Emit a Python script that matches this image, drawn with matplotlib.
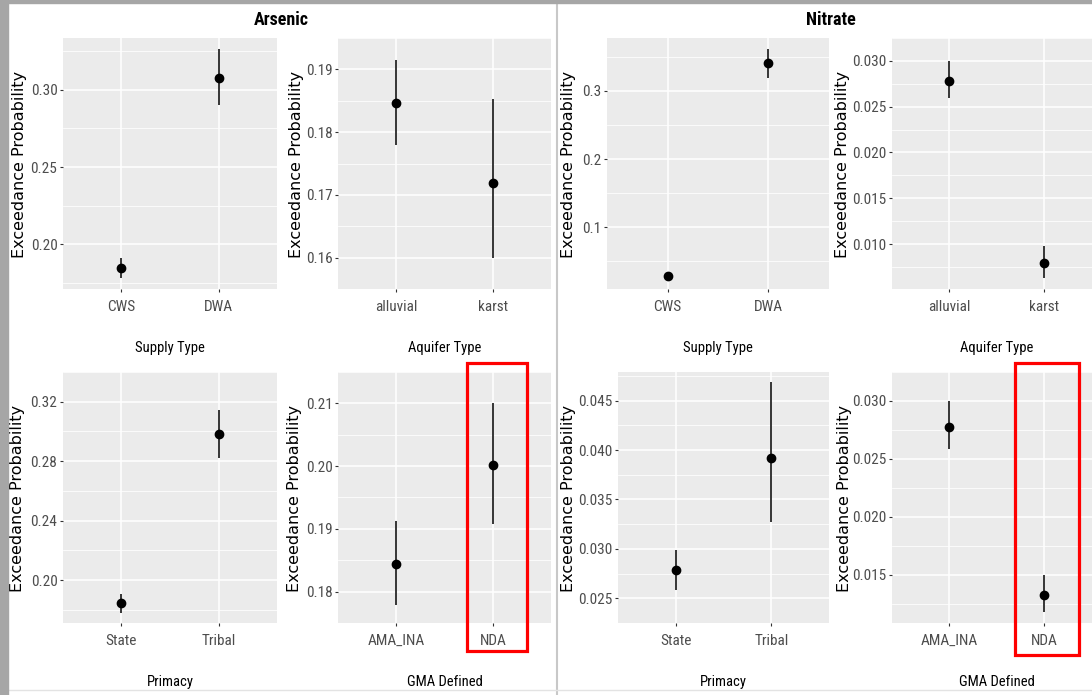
import matplotlib
matplotlib.use("Agg")
import matplotlib.pyplot as plt
from matplotlib import font_manager
from matplotlib.patches import Rectangle
from matplotlib.lines import Line2D

# ---- data ----
ars_supply_cat = ["CWS", "DWA"]
ars_supply_est = [0.185, 0.3076]
ars_supply_lo = [0.1786, 0.290]
ars_supply_hi = [0.1915, 0.326]

ars_aquifer_cat = ["alluvial", "karst"]
ars_aquifer_est = [0.1847, 0.1719]
ars_aquifer_lo = [0.1779, 0.1600]
ars_aquifer_hi = [0.1915, 0.1853]

ars_primacy_cat = ["State", "Tribal"]
ars_primacy_est = [0.1849, 0.2986]
ars_primacy_lo = [0.1780, 0.2824]
ars_primacy_hi = [0.1909, 0.3147]

ars_gma_cat = ["AMA_INA", "NDA"]
ars_gma_est = [0.1844, 0.2001]
ars_gma_lo = [0.1779, 0.1908]
ars_gma_hi = [0.1913, 0.2100]

nit_supply_cat = ["CWS", "DWA"]
nit_supply_est = [0.028, 0.3407]
nit_supply_lo = [0.026, 0.3197]
nit_supply_hi = [0.030, 0.3610]

nit_aquifer_cat = ["alluvial", "karst"]
nit_aquifer_est = [0.0278, 0.00788]
nit_aquifer_lo = [0.0259, 0.00628]
nit_aquifer_hi = [0.0300, 0.0098]

nit_primacy_cat = ["State", "Tribal"]
nit_primacy_est = [0.02782, 0.03923]
nit_primacy_lo = [0.0258, 0.03272]
nit_primacy_hi = [0.0299, 0.04684]

nit_gma_cat = ["AMA_INA", "NDA"]
nit_gma_est = [0.02773, 0.01326]
nit_gma_lo = [0.02581, 0.01173]
nit_gma_hi = [0.0300, 0.0150]

# y tick labels per panel
ars_supply_ticks = ["0.20", "0.25", "0.30"]
ars_aquifer_ticks = ["0.16", "0.17", "0.18", "0.19"]
ars_primacy_ticks = ["0.20", "0.24", "0.28", "0.32"]
ars_gma_ticks = ["0.18", "0.19", "0.20", "0.21"]
nit_supply_ticks = ["0.1", "0.2", "0.3"]
nit_aquifer_ticks = ["0.010", "0.015", "0.020", "0.025", "0.030"]
nit_primacy_ticks = ["0.025", "0.030", "0.035", "0.040", "0.045"]
nit_gma_ticks = ["0.015", "0.020", "0.025", "0.030"]

xtitles = ["Supply Type", "Aquifer Type", "Primacy", "GMA Defined"]

W, H = 1092, 695
names = {f.name for f in font_manager.fontManager.ttflist}
narrow = None
for cand in ["Liberation Sans Narrow", "Arial Narrow", "Roboto Condensed", "Open Sans Condensed"]:
    if cand in names:
        narrow = cand
        break
if narrow:
    tick_fs, xt_fs, title_fs = 11, 10.5, 13
else:
    narrow = "Liberation Sans"
    tick_fs, xt_fs, title_fs = 9, 9.5, 10.5

fig = plt.figure(figsize=(W / 100, H / 100), dpi=100)
fig.patch.set_facecolor("white")


def px(x0, y0, x1, y1):
    return [x0 / W, 1 - y1 / H, (x1 - x0) / W, (y1 - y0) / H]


def panel(rect, cats, est, lo, hi, ticks):
    ax = fig.add_axes(px(*rect))
    ax.set_facecolor("#EBEBEB")
    for s in ax.spines.values():
        s.set_visible(False)
    xs = list(range(1, len(cats) + 1))
    ax.vlines(xs, lo, hi, color="black", lw=1.1, zorder=3)
    ax.plot(xs, est, "o", color="black", ms=6, zorder=4)
    ax.set_xlim(0.4, len(cats) + 0.6)
    ymin, ymax = min(lo), max(hi)
    pad = (ymax - ymin) * 0.05
    ax.set_ylim(ymin - pad, ymax + pad)
    tv = [float(t) for t in ticks]
    ax.set_yticks(tv)
    ax.set_yticklabels(ticks)
    step = tv[1] - tv[0]
    minors = [tv[0] - step / 2] + [t + step / 2 for t in tv]
    ax.set_yticks(minors, minor=True)
    ax.set_xticks(xs)
    ax.set_xticklabels(cats)
    ax.grid(True, which="major", color="white", lw=1.1)
    ax.grid(True, which="minor", axis="y", color="white", lw=0.55)
    ax.set_axisbelow(True)
    ax.tick_params(which="major", length=2, width=0.8, color="#333333", pad=2,
                   labelsize=tick_fs, labelcolor="#4D4D4D")
    ax.tick_params(axis="x", pad=6)
    ax.tick_params(which="minor", length=0)
    for lab in ax.get_xticklabels() + ax.get_yticklabels():
        lab.set_fontfamily(narrow)
    return ax


top = (38, 289)
bot = (372, 623)
# (left, right, y-label x) for each panel, top row then bottom row
top_cols = [(63, 277, 20), (338, 551, 296), (607, 829, 569), (892, 1101, 842)]
bot_cols = [(63, 277, 18), (338, 551, 295), (618, 829, 569), (892, 1101, 845)]

panels = [
    (top_cols[0], top, ars_supply_cat, ars_supply_est, ars_supply_lo, ars_supply_hi, ars_supply_ticks, xtitles[0]),
    (top_cols[1], top, ars_aquifer_cat, ars_aquifer_est, ars_aquifer_lo, ars_aquifer_hi, ars_aquifer_ticks, xtitles[1]),
    (top_cols[2], top, nit_supply_cat, nit_supply_est, nit_supply_lo, nit_supply_hi, nit_supply_ticks, xtitles[0]),
    (top_cols[3], top, nit_aquifer_cat, nit_aquifer_est, nit_aquifer_lo, nit_aquifer_hi, nit_aquifer_ticks, xtitles[1]),
    (bot_cols[0], bot, ars_primacy_cat, ars_primacy_est, ars_primacy_lo, ars_primacy_hi, ars_primacy_ticks, xtitles[2]),
    (bot_cols[1], bot, ars_gma_cat, ars_gma_est, ars_gma_lo, ars_gma_hi, ars_gma_ticks, xtitles[3]),
    (bot_cols[2], bot, nit_primacy_cat, nit_primacy_est, nit_primacy_lo, nit_primacy_hi, nit_primacy_ticks, xtitles[2]),
    (bot_cols[3], bot, nit_gma_cat, nit_gma_est, nit_gma_lo, nit_gma_hi, nit_gma_ticks, xtitles[3]),
]

for c, r, cats, est, lo, hi, ticks, xt in panels:
    panel((c[0], r[0], c[1], r[1]), cats, est, lo, hi, ticks)
    xc = (c[0] + c[1]) / 2
    fig.text(xc / W, 1 - (r[1] + 59) / H, xt, ha="center", va="center",
             fontsize=xt_fs, family=narrow, color="black")
    fig.text(c[2] / W, 1 - ((r[0] + r[1]) / 2 + 1) / H,
             "Exceedance Probability", rotation=90, ha="center", va="center",
             fontsize=11.5, family="DejaVu Sans", color="black")

fig.text(281 / W, 1 - 20 / H, "Arsenic", ha="center", va="center",
         fontsize=title_fs, fontweight="bold", family=narrow)
fig.text(831 / W, 1 - 20 / H, "Nitrate", ha="center", va="center",
         fontsize=title_fs, fontweight="bold", family=narrow)

# highlight boxes around NDA
for (x0, y0, x1, y1) in [(467, 363, 527, 651), (1015, 363, 1079, 655)]:
    fig.patches.append(Rectangle((x0 / W, 1 - y1 / H), (x1 - x0) / W, (y1 - y0) / H,
                                 transform=fig.transFigure, fill=False,
                                 edgecolor="#FF0000", lw=2.3, zorder=10))

# frame of the screenshot
fig.patches.append(Rectangle((0, 0), 8 / W, 1, transform=fig.transFigure,
                             color="#A6A6A6", zorder=9))
fig.patches.append(Rectangle((0, 1 - 3 / H), 1, 3 / H, transform=fig.transFigure,
                             color="#A6A6A6", zorder=9))
fig.lines.append(Line2D([557 / W, 557 / W], [0, 1 - 3 / H], transform=fig.transFigure,
                        color="#C8C8C8", lw=1.5, zorder=9))
fig.lines.append(Line2D([8 / W, 1], [1 - 690 / H, 1 - 690 / H], transform=fig.transFigure,
                        color="#E3E3E3", lw=1.0, zorder=9))

fig.savefig("out.png", dpi=100, facecolor="white")
